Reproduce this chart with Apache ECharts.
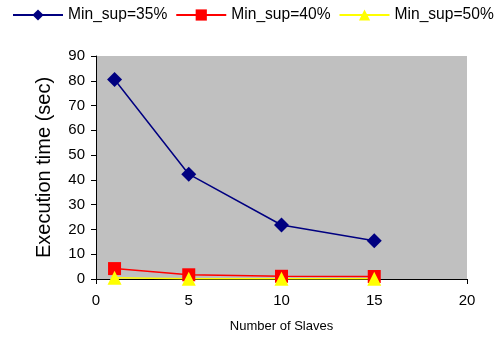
<!DOCTYPE html>
<html>
<head>
<meta charset="utf-8">
<script src="https://cdn.jsdelivr.net/npm/echarts@6/dist/echarts.min.js"></script>
<style>html,body{margin:0;padding:0;background:#fff}#c{width:502px;height:338px}</style>
</head>
<body>
<div id="c"></div>
<script>
const slaves = [1, 5, 10, 15];
const sup35 = [80.5, 42.3, 21.8, 15.4];
const sup40 = [4.2, 1.7, 1.1, 1.0];
const sup50 = [0.5, 0.1, 0.1, 0.1];
const seriesNames = ['Min_sup=35%', 'Min_sup=40%', 'Min_sup=50%'];
const xTicks = [0, 5, 10, 15, 20];
const yTicks = [0, 10, 20, 30, 40, 50, 60, 70, 80, 90];

const font = 'Arial, "Liberation Sans", sans-serif';
const pairs = arr => slaves.map((x, i) => [x, arr[i]]);

const chart = echarts.init(document.getElementById('c'), null, {renderer: 'canvas'});
chart.setOption({
  animation: false,
  backgroundColor: '#fff',
  textStyle: {fontFamily: font},
  legend: {
    left: 12, top: 7, width: 495, padding: 0,
    itemWidth: 50, itemHeight: 14, itemGap: 8,
    textStyle: {fontSize: 15.6, color: '#000', fontFamily: font},
    data: seriesNames
  },
  grid: {
    left: 96, right: 35, top: 56, bottom: 58,
    show: true, backgroundColor: '#C0C0C0', borderWidth: 0
  },
  xAxis: {
    type: 'value', min: xTicks[0], max: xTicks[xTicks.length - 1], interval: 5,
    name: 'Number of Slaves', nameLocation: 'middle', nameGap: 41,
    nameTextStyle: {fontSize: 13, color: '#000', fontFamily: font},
    axisLine: {show: true, onZero: false, lineStyle: {color: '#000', width: 1}},
    axisTick: {show: true, length: 5, inside: false, lineStyle: {color: '#000'}},
    axisLabel: {fontSize: 15, color: '#000', margin: 14, fontFamily: font},
    splitLine: {show: false}
  },
  yAxis: {
    type: 'value', min: yTicks[0], max: yTicks[yTicks.length - 1], interval: 10,
    name: 'Execution time (sec)', nameLocation: 'middle', nameGap: 42,
    nameTextStyle: {fontSize: 20, color: '#000', fontFamily: font},
    axisLine: {show: true, lineStyle: {color: '#000', width: 1}},
    axisTick: {show: true, length: 5, inside: false, lineStyle: {color: '#000'}},
    axisLabel: {fontSize: 15, color: '#000', margin: 11, fontFamily: font},
    splitLine: {show: false}
  },
  series: [
    {
      name: seriesNames[0], type: 'line', data: pairs(sup35),
      symbol: 'diamond', symbolSize: 15,
      itemStyle: {color: '#000080'},
      lineStyle: {color: '#000080', width: 1.5}
    },
    {
      name: seriesNames[1], type: 'line', data: pairs(sup40),
      symbol: 'rect', symbolSize: 13,
      itemStyle: {color: '#FF0000'},
      lineStyle: {color: '#FF0000', width: 1.5}
    },
    {
      name: seriesNames[2], type: 'line', data: pairs(sup50),
      symbol: 'triangle', symbolSize: 14,
      itemStyle: {color: '#FFFF00'},
      lineStyle: {color: '#FFFF00', width: 1.5}
    }
  ]
});
</script>
</body>
</html>
